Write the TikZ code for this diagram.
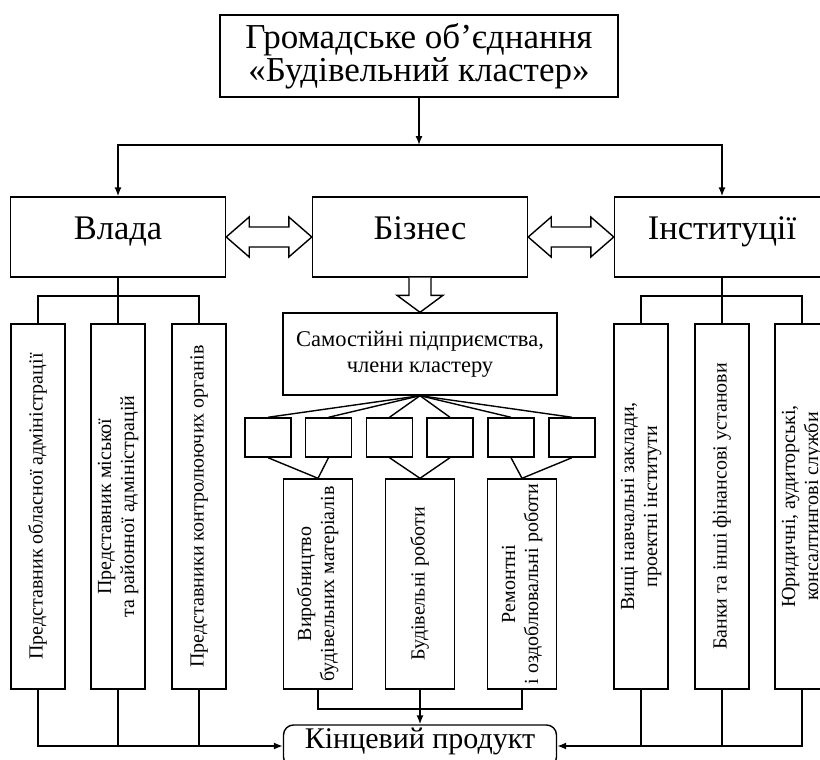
\documentclass[tikz,border=0pt]{standalone}
\usepackage{fontspec}
\setmainfont{Liberation Serif}
\usepackage{graphicx}
\usetikzlibrary{calc,arrows.meta,backgrounds}
\newcommand{\vtext}[1]{\rotatebox{90}{\begin{tabular}{@{}c@{}}#1\end{tabular}}}
\begin{document}
\begin{tikzpicture}[x=1pt,y=-1pt,
  box/.style={draw,line width=1.4pt,inner sep=0pt,align=center,fill=white},
  bigbox/.style={box,minimum width=215pt,minimum height=80pt,font=\fontsize{34.5}{36}\selectfont,text height=0.7em,text depth=0.24em},
  vbox/.style={box,minimum width=54pt,minimum height=365pt,font=\fontsize{20}{23}\selectfont},
  smallbox/.style={box,minimum width=46pt,minimum height=39pt},
  midbox/.style={box,minimum width=69pt,minimum height=210pt,font=\fontsize{20}{23}\selectfont},
  ln/.style={line width=1.4pt},
  arr/.style={ln,-{Latex[length=9pt,width=7pt]}},
  hollow/.style={line width=1.4pt,fill=white,line join=miter}
]
\useasboundingbox (0,0) rectangle (820,760);
% top
\node[box,minimum width=398pt,minimum height=82pt,font=\fontsize{35}{33}\selectfont] (top) at (419,56) {Громадське об’єднання\\«Будівельний кластер»};
% level 2
\node[bigbox] (vlada) at (118,237) {Влада};
\node[bigbox] (biz) at (420,237) {Бізнес};
\node[bigbox] (inst) at (722,237) {Інституції};
% sam box
\node[box,minimum width=274pt,minimum height=82pt,font=\fontsize{22.5}{26}\selectfont] (sam) at (420,354) {Самостійні підприємства,\\члени кластеру};
% Vlada branches
\node[vbox] (v1) at (38,506.5) {\vtext{Представник обласної адміністрації}};
\node[vbox] (v2) at (118,506.5) {\vtext{Представник міської\\та районної адміністрацій}};
\node[vbox] (v3) at (199,506.5) {\vtext{Представники контролюючих органів}};
% Inst branches
\node[vbox] (i1) at (641,506.5) {\vtext{Вищі навчальні заклади,\\проектні інститути}};
\node[vbox] (i2) at (722,506.5) {\vtext{Банки та інші фінансові установи}};
\node[vbox] (i3) at (802,506.5) {\vtext{Юридичні, аудиторські,\\консалтингові служби}};
% small boxes
\node[smallbox] (s1) at (268,437.5) {};
\node[smallbox] (s2) at (328.5,437.5) {};
\node[smallbox] (s3) at (389.5,437.5) {};
\node[smallbox] (s4) at (450,437.5) {};
\node[smallbox] (s5) at (511,437.5) {};
\node[smallbox] (s6) at (572,437.5) {};
% mid boxes
\node[midbox] (b1) at (318,584) {\vtext{Виробництво\\будівельних матеріалів}};
\node[midbox] (b2) at (420,584) {\vtext{Будівельні роботи}};
\node[midbox] (b3) at (522,584) {\vtext{Ремонтні\\і оздоблювальні роботи}};
% final
\node[box,rounded corners=10pt,minimum width=273pt,minimum height=42pt,font=\fontsize{30}{32}\selectfont,text height=0.68em,text depth=0.28em] (kp) at (420,746) {Кінцевий продукт};
\coordinate (split) at (419,145);
\coordinate (vb) at (118,296);
\coordinate (ib) at (722,296);
\coordinate (bj) at (420,709);
% hollow double arrows
\draw[hollow] (vlada.east) -- ++(23,-20) -- ++(0,10) -- ($(biz.west)+(-23,-10)$) -- ++(0,-10) -- (biz.west) -- ++(-23,20) -- ++(0,-10) -- ($(vlada.east)+(23,10)$) -- ++(0,10) -- cycle;
\draw[hollow] (biz.east) -- ++(23,-20) -- ++(0,10) -- ($(inst.west)+(-23,-10)$) -- ++(0,-10) -- (inst.west) -- ++(-23,20) -- ++(0,-10) -- ($(biz.east)+(23,10)$) -- ++(0,10) -- cycle;
\draw[hollow] ($(biz.south)+(-11,0)$) -- ($(sam.north)+(-11,-17)$) -- ($(sam.north)+(-23,-17)$) -- (sam.north) -- ($(sam.north)+(23,-17)$) -- ($(sam.north)+(11,-17)$) -- ($(biz.south)+(11,0)$);
\begin{pgfonlayer}{background}
\draw[arr] (top) -- (split);
\draw[arr] (split) -| (vlada.north);
\draw[arr] (split) -| (inst.north);
\draw[ln] (v1.north) |- (vb) -| (v3.north);
\draw[ln] (vlada.south) -- (v2.north);
\draw[ln] (i1.north) |- (ib) -| (i3.north);
\draw[ln] (inst.south) -- (i2.north);
\foreach \s in {s1,s2,s3,s4,s5,s6} \draw[ln] (sam.south) -- (\s.north);
\draw[ln] (s1.south) -- (b1.north);
\draw[ln] (s2.south) -- (b1.north);
\draw[ln] (s3.south) -- (b2.north);
\draw[ln] (s4.south) -- (b2.north);
\draw[ln] (s5.south) -- (b3.north);
\draw[ln] (s6.south) -- (b3.north);
\draw[ln] (b1.south) |- (bj) -| (b3.south);
\draw[arr] (b2.south) -- (kp.north);
\draw[arr] (v1.south) |- (kp.west);
\draw[ln] (v2.south) -- (v2.south |- kp.west);
\draw[ln] (v3.south) -- (v3.south |- kp.west);
\draw[arr] (i3.south) |- (kp.east);
\draw[ln] (i1.south) -- (i1.south |- kp.east);
\draw[ln] (i2.south) -- (i2.south |- kp.east);
\end{pgfonlayer}
\end{tikzpicture}
\end{document}
